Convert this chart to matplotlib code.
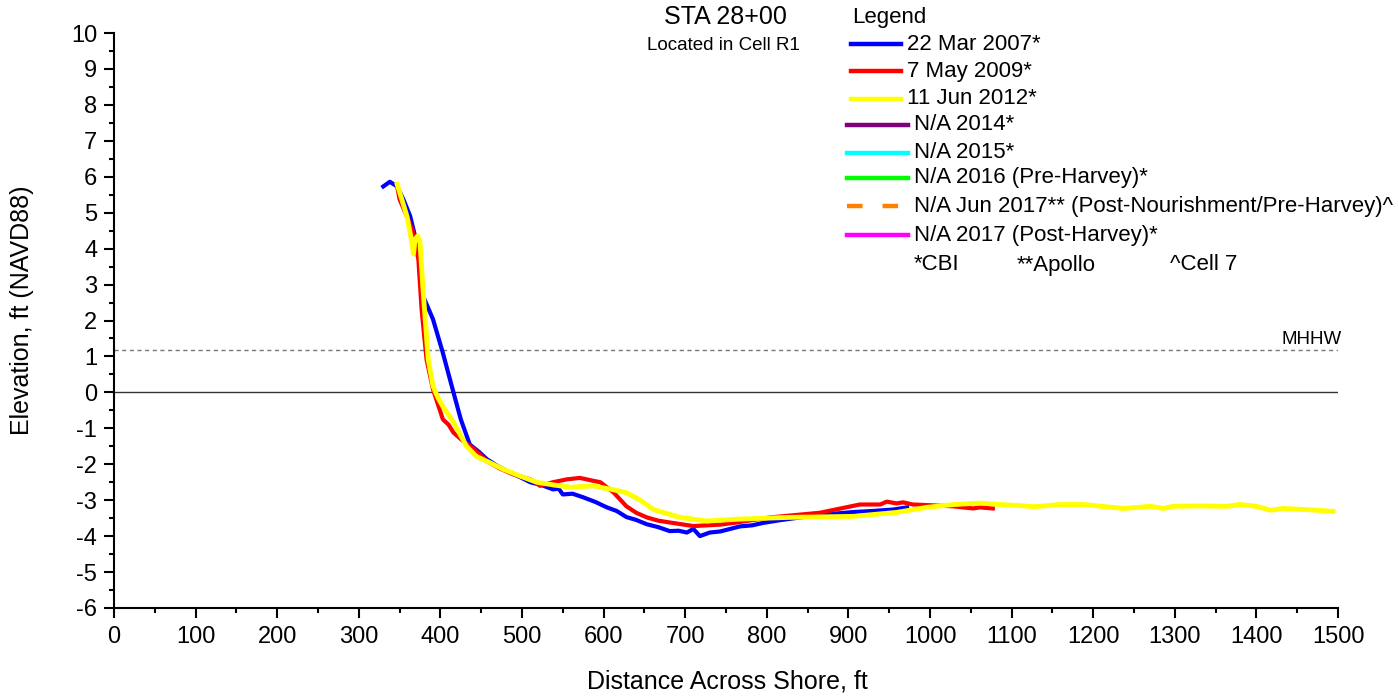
import matplotlib
matplotlib.use("Agg")
import matplotlib.pyplot as plt
from matplotlib.lines import Line2D
from matplotlib.ticker import MultipleLocator

plt.rcParams['font.family'] = ['Liberation Sans', 'DejaVu Sans']
plt.rcParams['axes.unicode_minus'] = False

# ---- data ----
blue_x = [330, 338, 347, 355, 363, 369, 373, 379, 391, 403, 416, 425, 436, 447, 457, 470,
          485, 497, 510, 524, 538, 545, 550, 562, 575, 590, 604, 616, 628, 640, 653, 667,
          681, 692, 702, 710, 718, 730, 743, 755, 767, 782, 796, 818, 841, 870, 906, 930,
          955, 972]
blue_y = [5.73, 5.86, 5.73, 5.35, 4.9, 4.34, 4.2, 2.67, 2.03, 1.1, 0.0, -0.75, -1.45, -1.65,
          -1.86, -2.05, -2.23, -2.35, -2.5, -2.58, -2.7, -2.68, -2.84, -2.82, -2.92, -3.05,
          -3.2, -3.3, -3.47, -3.55, -3.67, -3.75, -3.86, -3.85, -3.9, -3.8, -4.0, -3.9,
          -3.87, -3.8, -3.73, -3.7, -3.63, -3.55, -3.48, -3.4, -3.33, -3.3, -3.26, -3.2]

red_x = [347, 350, 358, 366, 373, 377, 383, 391, 403, 410, 416, 428, 440, 457, 473, 489,
         500, 510, 516, 522, 530, 538, 555, 571, 585, 596, 612, 628, 640, 653, 667, 681,
         710, 743, 763, 804, 865, 914, 939, 947, 959, 967, 979, 1000, 1028, 1053, 1061, 1077]
red_y = [5.73, 5.37, 4.95, 4.5, 3.7, 2.3, 0.92, 0.08, -0.75, -0.9, -1.12, -1.36, -1.55,
         -1.92, -2.12, -2.28, -2.35, -2.42, -2.5, -2.6, -2.55, -2.5, -2.42, -2.38, -2.45,
         -2.5, -2.78, -3.17, -3.35, -3.48, -3.57, -3.62, -3.72, -3.68, -3.62, -3.48, -3.35,
         -3.12, -3.12, -3.04, -3.09, -3.06, -3.12, -3.14, -3.17, -3.23, -3.2, -3.23]

yellow_x = [347, 353, 359, 364, 367, 369, 372, 375, 379, 385, 391, 397, 403, 416, 432, 444,
            460, 477, 500, 518, 540, 559, 587, 610, 628, 645, 661, 694, 727, 763, 825, 906,
            959, 996, 1030, 1061, 1086, 1110, 1127, 1145, 1159, 1188, 1210, 1237, 1255, 1270,
            1286, 1298, 1330, 1364, 1380, 1400, 1417, 1433, 1460, 1494]
yellow_y = [5.79, 5.35, 4.9, 4.3, 3.85, 4.26, 4.35, 4.17, 2.78, 0.92, 0.17, -0.15, -0.39,
            -0.83, -1.5, -1.78, -1.95, -2.14, -2.35, -2.5, -2.58, -2.64, -2.6, -2.7, -2.79,
            -3.0, -3.26, -3.48, -3.58, -3.53, -3.48, -3.45, -3.34, -3.2, -3.12, -3.08, -3.12,
            -3.15, -3.18, -3.15, -3.12, -3.12, -3.17, -3.23, -3.2, -3.17, -3.23, -3.17, -3.16,
            -3.17, -3.12, -3.17, -3.28, -3.23, -3.26, -3.31]

mhhw = 1.18

legend_labels = ["22 Mar 2007*", "7 May 2009*", "11 Jun 2012*", "N/A 2014*", "N/A 2015*",
                 "N/A 2016 (Pre-Harvey)*",
                 "N/A Jun 2017** (Post-Nourishment/Pre-Harvey)^",
                 "N/A 2017 (Post-Harvey)*"]
legend_colors = ["#0000ff", "#ff0000", "#ffff00", "#800080", "#00ffff", "#00ff00",
                 "#ff8000", "#ff00ff"]
footnotes = ["*CBI", "**Apollo", "^Cell 7"]

W, H = 1399, 698
fig = plt.figure(figsize=(W / 100, H / 100), dpi=100)
ax = fig.add_axes([114 / W, 1 - 608 / H, (1338 - 114) / W, (608 - 33) / H])

ax.plot(blue_x, blue_y, color=legend_colors[0], lw=3.0, solid_joinstyle='round', zorder=3)
ax.plot(red_x, red_y, color=legend_colors[1], lw=3.0, solid_joinstyle='round', zorder=4)
ax.plot(yellow_x, yellow_y, color=legend_colors[2], lw=3.5, solid_joinstyle='round', zorder=5)

ax.axhline(0, color='#333333', lw=1.0, zorder=1)
ax.axhline(mhhw, color='#777777', lw=1.0, ls=(0, (3, 2.5)), zorder=1)
ax.text(1505, mhhw + 0.05, "MHHW", ha='right', va='bottom', fontsize=13.5)

ax.set_xlim(0, 1500)
ax.set_ylim(-6, 10)
ax.xaxis.set_major_locator(MultipleLocator(100))
ax.xaxis.set_minor_locator(MultipleLocator(50))
ax.yaxis.set_major_locator(MultipleLocator(1))
ax.yaxis.set_minor_locator(MultipleLocator(0.5))
for s in ['top', 'right']:
    ax.spines[s].set_visible(False)
for s in ['left', 'bottom']:
    ax.spines[s].set_linewidth(1.5)
ax.tick_params(which='major', direction='out', length=7, width=1.5, labelsize=17, pad=5)
ax.tick_params(which='minor', direction='out', length=3.5, width=1.5)
ax.tick_params(axis='x', which='major', pad=6)

fig.text(727 / W, 1 - 681 / H, "Distance Across Shore, ft", ha='center', va='center', fontsize=18)
fig.text(22 / W, 1 - 310 / H, "Elevation, ft (NAVD88)", ha='center', va='center',
         rotation=90, fontsize=18)

fig.text(725 / W, 1 - 17 / H, "STA 28+00", ha='center', va='center', fontsize=18)
fig.text(723 / W, 1 - 46 / H, "Located in Cell R1", ha='center', va='center', fontsize=13.5)

# legend drawn by hand
fig.text(852 / W, 1 - 17 / H, "Legend", ha='left', va='center', fontsize=16)
rows_y = [44, 71, 99, 125, 153, 178, 206, 235]
for i, (lab, col) in enumerate(zip(legend_labels, legend_colors)):
    yy = 1 - rows_y[i] / H
    if i < 3:
        x0, x1, tx = 851, 901, 907
    else:
        x0, x1, tx = 847, 908, 914
    ls = (0, (3.5, 4.5)) if i == 6 else '-'
    fig.add_artist(Line2D([x0 / W, x1 / W], [yy, yy], color=col, lw=3.2, ls=ls,
                          transform=fig.transFigure))
    fig.text(tx / W, yy, lab, ha='left', va='center', fontsize=16)
for fx, ft in zip([914, 1017, 1170], footnotes):
    fig.text(fx / W, 1 - 265 / H, ft, ha='left', va='center', fontsize=16)

fig.savefig("out.png", dpi=100)
